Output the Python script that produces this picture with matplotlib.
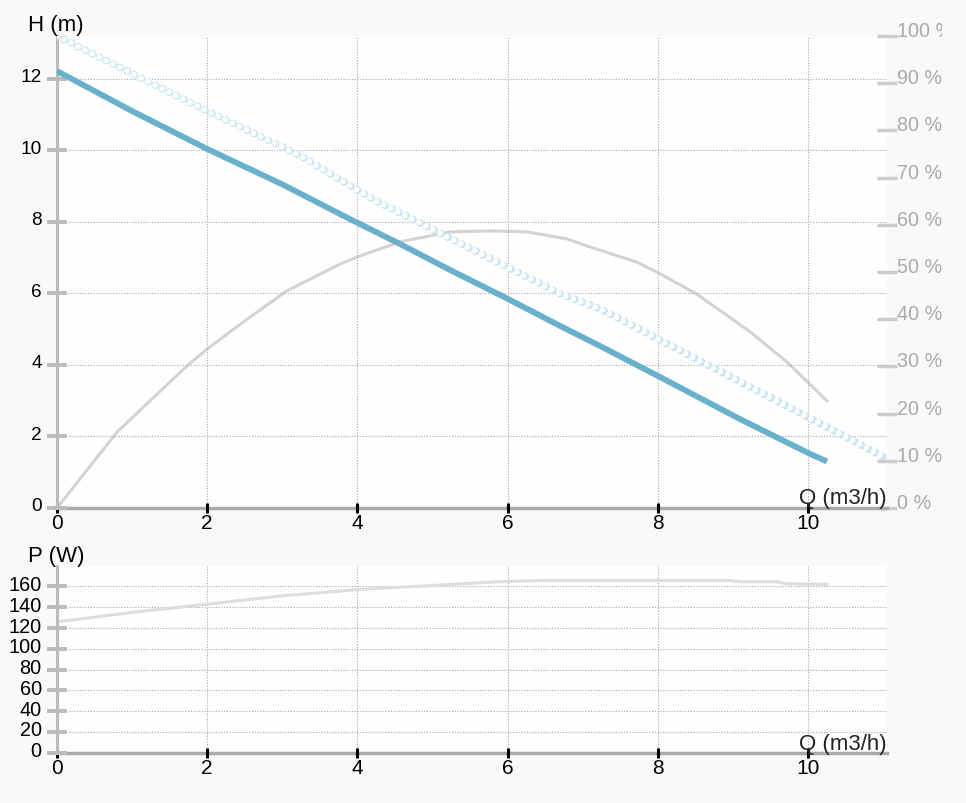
import matplotlib
matplotlib.use("Agg")
import matplotlib.pyplot as plt
from matplotlib.transforms import ScaledTranslation, Bbox, TransformedBbox

plt.rcParams["font.family"] = ["Liberation Sans", "DejaVu Sans"]

# pump curve: head H (m) vs flow Q (m3/h)
q_head = [0, 1, 2, 3, 3.9, 4.57, 5.23, 6.0, 6.7, 7.23, 8.03, 9.09, 10.0, 10.25]
head = [12.22, 11.1, 10.04, 9.05, 8.08, 7.38, 6.66, 5.85, 5.09, 4.53, 3.66, 2.49, 1.54, 1.3]

# max head curve (drawn as open circles)
q_hmax = [0, 2, 3.24, 4.2, 6.7, 7.23, 9.99, 11.05]
hmax = [13.2, 11.1, 9.85, 8.64, 5.99, 5.57, 2.55, 1.38]

# efficiency (%)
q_eff = [0, 0.8, 1.73, 2, 2.53, 3.06, 3.77, 4.03, 4.57, 5.23, 5.77, 6.26,
         6.79, 7.06, 7.72, 8.03, 8.52, 9.23, 9.72, 10.25]
eff = [0, 16.1, 30.1, 33.7, 40, 46, 51.7, 53.4, 56.4, 58.5, 58.7, 58.5,
       57, 55.5, 52.1, 49.6, 45.3, 37.3, 30.9, 22.7]

# power P (W)
q_pow = [0, 1, 2, 3, 4, 5, 5.86, 6.43, 8.96, 9.1, 9.59, 9.7, 10.25]
power = [126, 135, 143, 151, 157, 161, 164.5, 165.8, 165.8, 164.5, 164.5, 162.6, 162]

x_ticks = [0, 2, 4, 6, 8, 10]
h_ticks = [0, 2, 4, 6, 8, 10, 12]
eff_ticks = list(range(0, 101, 10))
p_ticks = list(range(0, 161, 20))

W, H = 966, 804
BG = "#f9f9f9"
GRID = dict(color="#a8a8a8", linestyle=(0, (1, 1.5)), linewidth=0.8)


def style_axes(ax, ylabel_size):
    for s in ("top", "right"):
        ax.spines[s].set_visible(False)
    ax.spines["left"].set_color("#bbbbbb")
    ax.spines["left"].set_linewidth(2.2)
    ax.spines["bottom"].set_color("#aaaaaa")
    ax.spines["bottom"].set_linewidth(2.5)
    # keep the black x ticks visible on top of the grey axis line
    ax.spines["bottom"].set_zorder(0.4)
    ax.tick_params(axis="y", direction="inout", length=14, width=2.8,
                   color="#bbbbbb", pad=4, labelsize=ylabel_size)
    ax.tick_params(axis="x", direction="inout", length=7, width=2.2,
                   color="black", pad=0, labelsize=15)
    ax.grid(True, **GRID)
    ax.set_axisbelow(True)
    off = ScaledTranslation(0, 4 / 100, ax.figure.dpi_scale_trans)
    for lab in ax.get_yticklabels():
        lab.set_transform(lab.get_transform() + off)


fig = plt.figure(figsize=(W / 100, H / 100), dpi=100, facecolor=BG)

# ---- top panel: head + efficiency
ax = fig.add_axes([57 / W, 1 - 509 / H, 830 / W, 472 / H])
ax2 = ax.twinx()
ax.set_zorder(ax2.get_zorder() + 1)
ax.patch.set_visible(False)
ax2.patch.set_visible(True)
ax2.patch.set_facecolor("#fefefe")

ax.set_xlim(0, 11.05)
ax.set_ylim(0, 13.2)
ax.set_xticks(x_ticks)
ax.set_yticks(h_ticks)

# open circles: light ring dots with white centres
ax.plot(q_hmax, hmax, color="#c9e5f3", lw=5.6, dashes=(0.01, 1.0),
        dash_capstyle="round", zorder=3)
ax.plot(q_hmax, hmax, color="white", lw=4.0, dashes=(0.01, 5.6 / 4.0),
        dash_capstyle="round", zorder=3)
ax.plot(q_head, head, color="#68b0cc", lw=4.2, solid_capstyle="butt", zorder=4)
style_axes(ax, 13.7)

ax2.plot(q_eff, eff, color="#d3d3d3", lw=2.2)
ax2.set_ylim(0, 100)
ax2.set_yticks(eff_ticks)
ax2.set_yticklabels([f"{v} %" for v in eff_ticks])
for s in ax2.spines.values():
    s.set_visible(False)
ax2.tick_params(axis="y", direction="inout", length=14, width=2.5,
                color="#cccccc", labelcolor="#aaaaaa", pad=0.5, labelsize=14.2)
clip = TransformedBbox(Bbox([[0, 0], [942 / W, 1]]), fig.transFigure)
for lab in ax2.get_yticklabels():
    lab.set_verticalalignment("baseline")
    lab.set_clip_box(clip)
    lab.set_clip_on(True)

fig.text(28 / W, 1 - 26 / H, "H (m)", fontsize=16, va="center", ha="left")
fig.text(887 / W, 1 - 499 / H, "Q (m3/h)", fontsize=16, va="center", ha="right",
         color="#222222")

# ---- bottom panel: power
axp = fig.add_axes([57 / W, 1 - 753.7 / H, 830 / W, 187 / H])
axp.set_facecolor("#fefefe")
axp.set_xlim(0, 11.05)
axp.set_ylim(0, 180)
axp.set_xticks(x_ticks)
axp.set_yticks(p_ticks)
axp.plot(q_pow, power, color="#dddddd", lw=2.2)
style_axes(axp, 14.3)

fig.text(28 / W, 1 - 557 / H, "P (W)", fontsize=16, va="center", ha="left")
fig.text(887 / W, 1 - 745 / H, "Q (m3/h)", fontsize=16, va="center", ha="right",
         color="#222222")

fig.savefig("out.png", dpi=100, facecolor=BG)
